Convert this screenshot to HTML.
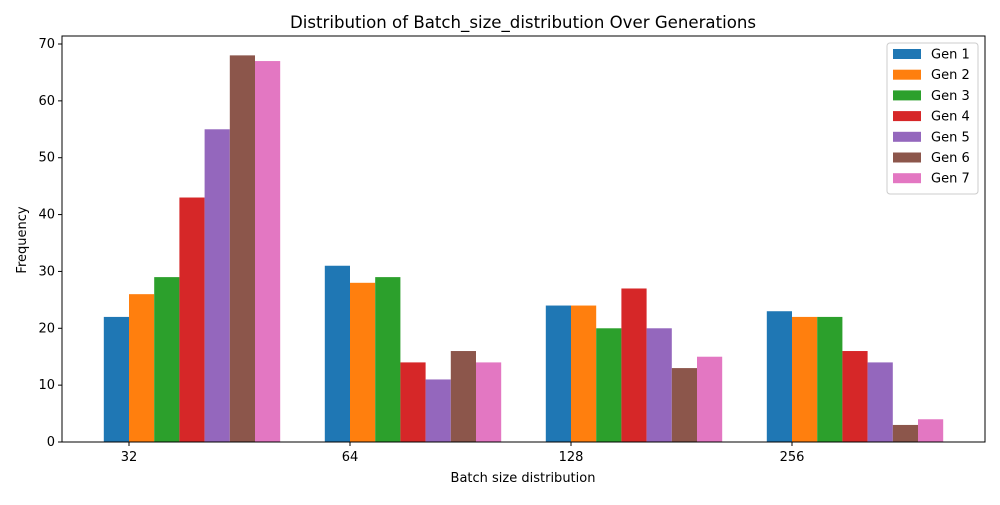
<!DOCTYPE html>
<html><head><meta charset="utf-8"><style>
body{margin:0;background:#fff;}
text{font-family:"DejaVu Sans","Liberation Sans",sans-serif;}
</style></head><body>
<svg id="chart" width="1000" height="500" xmlns="http://www.w3.org/2000/svg"></svg>
<script>
const categories = ["32","64","128","256"];
const seriesNames = ["Gen 1","Gen 2","Gen 3","Gen 4","Gen 5","Gen 6","Gen 7"];
const gen1 = [22,31,24,23];
const gen2 = [26,28,24,22];
const gen3 = [29,29,20,22];
const gen4 = [43,14,27,16];
const gen5 = [55,11,20,14];
const gen6 = [68,16,13,3];
const gen7 = [67,14,15,4];
const yTicks = [0,10,20,30,40,50,60,70];
const series = [gen1,gen2,gen3,gen4,gen5,gen6,gen7];
const colors = ["#1f77b4","#ff7f0e","#2ca02c","#d62728","#9467bd","#8c564b","#e377c2"];
const NS="http://www.w3.org/2000/svg";
const svg=document.getElementById('chart');
const L=62,R=985,T=36,B=442;
const y=v=>B-v*(B-44)/70;
const xTick=i=>129+221*i;
const bw=25.2;
function el(t,a,p){const e=document.createElementNS(NS,t);for(const k in a)e.setAttribute(k,a[k]);(p||svg).appendChild(e);return e;}
series.forEach((s,j)=>{s.forEach((v,i)=>{
 const r=el('rect',{x:xTick(i)+(j-1)*bw,y:y(v),width:bw,height:B-y(v),fill:colors[j]});
 
 
});});
const ax=el('rect',{x:L,y:T,width:R-L,height:B-T,fill:'none',stroke:'#000','stroke-width':1});


yTicks.forEach(v=>{
 el('line',{x1:L-4,x2:L,y1:y(v),y2:y(v),stroke:'#000'});
 const t=el('text',{x:L-7,y:y(v)+4,'text-anchor':'end','font-size':13});t.textContent=v;
 
 
});
categories.forEach((c,i)=>{
 el('line',{x1:xTick(i),x2:xTick(i),y1:B,y2:B+4,stroke:'#000'});
 const t=el('text',{x:xTick(i),y:B+19,'text-anchor':'middle','font-size':13});t.textContent=c;
 
 
});
let t=el('text',{x:523,y:28,'text-anchor':'middle','font-size':16.6});t.textContent="Distribution of Batch_size_distribution Over Generations";


t=el('text',{x:523,y:482,'text-anchor':'middle','font-size':13});t.textContent="Batch size distribution";


t=el('text',{x:26,y:240,'text-anchor':'middle','font-size':13,transform:'rotate(-90 26 240)'});t.textContent="Frequency";


const lg=el('g',{});


el('rect',{x:887,y:43,width:91,height:151,rx:3,fill:'#fff',stroke:'#ccc'},lg);
seriesNames.forEach((n,j)=>{
 const yy=53+j*20.7;
 el('rect',{x:893,y:yy-4,width:28,height:10,fill:colors[j]},lg);
 const e=el('text',{x:931,y:yy+5.5,'font-size':13},lg);e.textContent=n;
 
 
});
</script>
</body></html>
